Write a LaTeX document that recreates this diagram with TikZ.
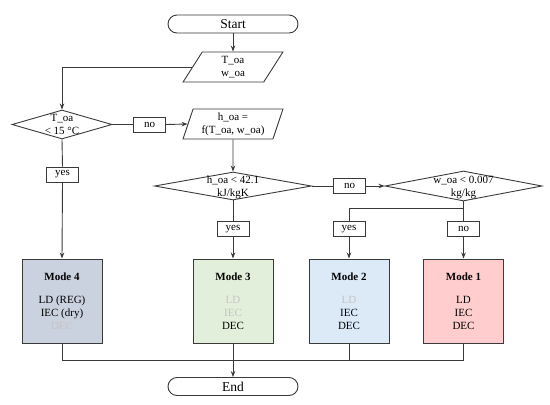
\documentclass[tikz,border=0pt]{standalone}
\usepackage{fontspec}
\setmainfont{Liberation Serif}
\usetikzlibrary{shapes.geometric,arrows.meta}
\definecolor{ln}{HTML}{3A3A3A}
\definecolor{fmfour}{HTML}{CBD2DF}
\definecolor{fmthree}{HTML}{E2EFDA}
\definecolor{fmtwo}{HTML}{DCEAF7}
\definecolor{fmone}{HTML}{FFCDCD}
\definecolor{gtxt}{HTML}{C4C4C4}
\tikzset{
  every node/.style={font=\fontsize{11}{13}\selectfont, text=black},
  conn/.style={draw=ln, line width=0.9pt},
  arr/.style={conn, -{Stealth[length=6pt,width=4.5pt]}},
  term/.style={draw=ln, line width=0.9pt, rounded corners=9pt, minimum width=130pt, minimum height=18pt, inner sep=0pt, font=\fontsize{13.5}{15}\selectfont},
  para/.style={draw=ln, line width=0.9pt, trapezium, trapezium left angle=71, trapezium right angle=109, trapezium stretches=true, minimum width=100pt, minimum height=30pt, inner sep=0pt, align=center},
  dia/.style={draw=ln, line width=0.9pt, diamond, inner sep=0pt},
  dtext/.style={align=center, inner sep=0pt, font=\fontsize{11}{12.5}\selectfont},
  lbl/.style={draw=ln, line width=0.9pt, fill=white, minimum width=32pt, minimum height=15pt, inner sep=0pt},
  modebox/.style={draw=ln, line width=1pt, minimum width=80pt, minimum height=84pt, inner sep=0pt, align=center},
}
\begin{document}
\begin{tikzpicture}[x=1pt,y=-1pt]
\useasboundingbox (0,0) rectangle (550,405);
% terminals
\node[term] (start) at (233,24) {Start};
\node[term] (end) at (233,386.5) {End};
% parallelograms
\node[para] (p1) at (233,67) {T\_oa\\w\_oa};
\node[para] (p2) at (233,124) {h\_oa =\\f(T\_oa, w\_oa)};
% diamonds
\node[dia, minimum width=100pt, minimum height=29pt] (d1) at (62,124.5) {};
\node[dtext] (d1t) at (62,124.5) {T\_oa\\< 15 °C};
\node[dia, minimum width=157pt, minimum height=28pt] (d2) at (233,186) {};
\node[dtext] (d2t) at (233,187.5) {h\_oa < 42.1\\kJ/kgK};
\node[dia, minimum width=157pt, minimum height=30pt] (d3) at (463.5,186) {};
\node[dtext] (d3t) at (463.5,187.5) {w\_oa < 0.007\\kg/kg};
% labels
\node[lbl] (no1) at (149.5,124.5) {no};
\node[lbl] (no2) at (349.5,186) {no};
\node[lbl] (yes1) at (62.5,174.5) {yes};
\node[lbl] (yes2) at (233,229) {yes};
\node[lbl] (yes3) at (349,229) {yes};
\node[lbl] (no3) at (463.5,229) {no};
% mode boxes
\node[modebox, fill=fmfour] (m4) at (62,301) {\textbf{Mode 4}\\[10pt]LD (REG)\\IEC (dry)\\\textcolor{gtxt}{DEC}};
\node[modebox, fill=fmthree] (m3) at (233,301) {\textbf{Mode 3}\\[10pt]\textcolor{gtxt}{LD}\\\textcolor{gtxt}{IEC}\\DEC};
\node[modebox, fill=fmtwo] (m2) at (349,301) {\textbf{Mode 2}\\[10pt]\textcolor{gtxt}{LD}\\IEC\\DEC};
\node[modebox, fill=fmone] (m1) at (463.5,301) {\textbf{Mode 1}\\[10pt]LD\\IEC\\DEC};
% coordinates
\coordinate (j3) at (463.5,208);
\coordinate (jb) at (233,360);
% connectors
\draw[arr] (start) -- (p1);
\draw[arr] (p1.west) -| (d1.north);
\draw[conn] (d1.east) -- (no1.west);
\draw[arr] (no1.east) -- (p2.west);
\draw[conn] (d1.south) -- (yes1.north);
\draw[arr] (yes1.south) -- (m4.north);
\draw[arr] (p2.south) -- (d2.north);
\draw[conn] (d2.east) -- (no2.west);
\draw[arr] (no2.east) -- (d3.west);
\draw[conn] (d2.south) -- (yes2.north);
\draw[arr] (yes2.south) -- (m3.north);
\draw[conn] (d3.south) -- (no3.north);
\draw[conn] (j3) -| (yes3.north);
\draw[arr] (yes3.south) -- (m2.north);
\draw[arr] (no3.south) -- (m1.north);
\draw[conn] (m4.south) |- (jb);
\draw[conn] (m1.south) |- (jb);
\draw[conn] (m2.south) -- (m2.south |- jb);
\draw[conn] (m3.south) -- (jb);
\draw[arr] (jb) -- (end.north);
\end{tikzpicture}
\end{document}
